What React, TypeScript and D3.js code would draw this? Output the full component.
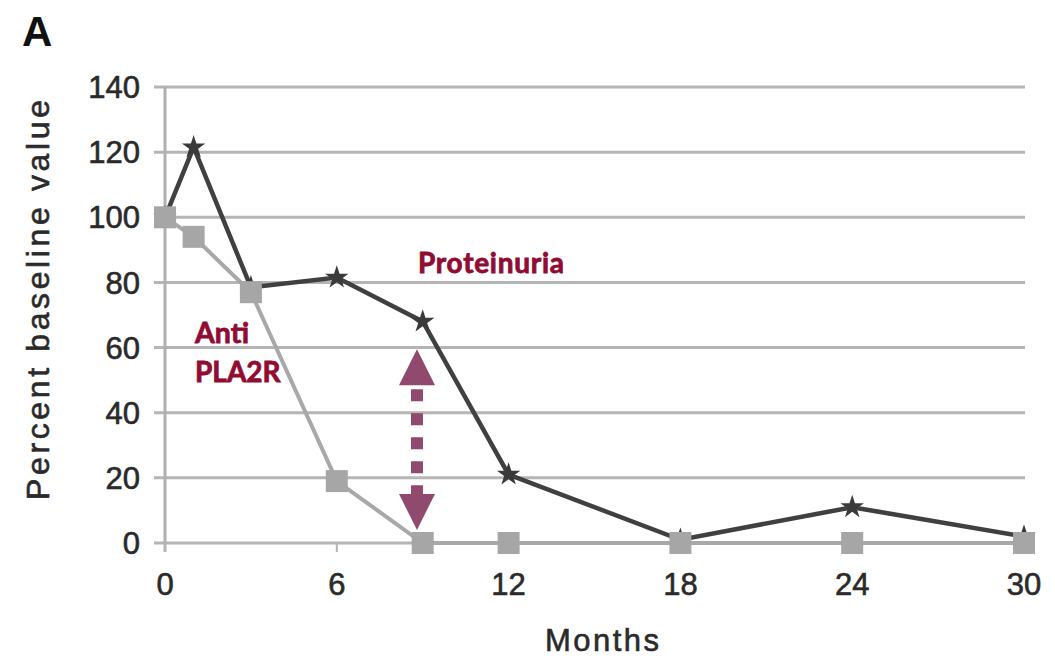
import React from "react";
import * as d3 from "d3";

const WIDTH = 1055;
const HEIGHT = 658;

// months on the x axis
const months = [0, 1, 3, 6, 9, 12, 18, 24, 30];
const proteinuria = [100, 121.5, 78.5, 81.5, 68, 21, 1, 11, 2];
const antiPla2r = [100, 94, 77, 19, 0, 0, 0, 0, 0];

const xTicks = [0, 6, 12, 18, 24, 30];
const yTicks = [0, 20, 40, 60, 80, 100, 120, 140];

// double arrow annotation (month, from value, to value)
const arrowMonth = 8.8;
const arrowRange = [4, 59.5];

const AXIS_FONT = "'Liberation Sans', Arial, sans-serif";
const LABEL_FONT = "Lato, 'Open Sans', sans-serif";
const RED = "#900c32";
const ARROW = "#8f4a6e";
const TEXT = "#2a2a2a";

export default function App() {
  const x = d3.scaleLinear().domain([0, 30]).range([165, 1024]);
  const y = d3.scaleLinear().domain([0, 140]).range([543, 87]);

  const line = d3
    .line<number>()
    .x((_, i) => x(months[i]))
    .y((d) => y(d));

  const star = d3.symbol().type(d3.symbolStar).size(170)();

  const ax = x(arrowMonth);
  const yLow = y(arrowRange[0]);
  const yHigh = y(arrowRange[1]);
  const head = 36;

  return (
    <svg
      width={WIDTH}
      height={HEIGHT}
      style={{ position: "absolute", left: 0, top: 0, background: "#fff" }}
    >
      <text x={22} y={46} fontFamily={AXIS_FONT} fontWeight="bold" fontSize={42} fill="#111">
        A
      </text>

      {/* grid */}
      {yTicks.map((t) => (
        <g key={t}>
          <line x1={154} x2={1025} y1={y(t)} y2={y(t)} stroke="#b5b5b5" strokeWidth={3} />
          <text
            x={140}
            y={y(t)}
            dy="0.36em"
            textAnchor="end"
            fontFamily={AXIS_FONT}
            fontSize={31}
            fill={TEXT}
            stroke={TEXT}
            strokeWidth={0.6}
          >
            {t}
          </text>
        </g>
      ))}
      <line x1={165} x2={165} y1={y(140)} y2={y(0) + 9} stroke="#b0b0b0" strokeWidth={3} />
      {xTicks.map((t) => (
        <g key={t}>
          <line x1={x(t)} x2={x(t)} y1={y(0)} y2={y(0) + 9} stroke="#b5b5b5" strokeWidth={2} />
          <text
            x={x(t)}
            y={595}
            textAnchor="middle"
            fontFamily={AXIS_FONT}
            fontSize={31}
            fill={TEXT}
            stroke={TEXT}
            strokeWidth={0.6}
          >
            {t}
          </text>
        </g>
      ))}

      {/* proteinuria series */}
      <path d={line(proteinuria) ?? ""} fill="none" stroke="#404040" strokeWidth={4.5} />
      {proteinuria.map((v, i) => (
        <path
          key={i}
          d={star ?? ""}
          transform={`translate(${x(months[i])},${y(v)})`}
          fill="#3a3a3a"
        />
      ))}

      {/* anti PLA2R series */}
      <path d={line(antiPla2r) ?? ""} fill="none" stroke="#a8a8a8" strokeWidth={4} />
      {antiPla2r.map((v, i) => (
        <rect
          key={i}
          x={x(months[i]) - 11}
          y={y(v) - 11}
          width={22}
          height={22}
          fill="#a6a6a6"
        />
      ))}

      {/* arrow */}
      <line
        x1={ax}
        x2={ax}
        y1={yHigh + head + 4}
        y2={yLow - head}
        stroke={ARROW}
        strokeWidth={12}
        strokeDasharray="12 12"
      />
      <path
        d={`M${ax},${yHigh} L${ax + 18},${yHigh + head} L${ax - 18},${yHigh + head} Z`}
        fill={ARROW}
      />
      <path
        d={`M${ax},${yLow} L${ax + 18},${yLow - head} L${ax - 18},${yLow - head} Z`}
        fill={ARROW}
      />

      {/* labels */}
      <text
        x={418}
        y={273}
        fontFamily={LABEL_FONT}
        fontWeight="bold"
        fontSize={28}
        fill={RED}
        stroke={RED}
        strokeWidth={0.8}
        textLength={146}
      >
        Proteinuria
      </text>
      <text
        x={195}
        y={343}
        fontFamily={LABEL_FONT}
        fontWeight="bold"
        fontSize={28.5}
        fill={RED}
        stroke={RED}
        strokeWidth={0.8}
      >
        Anti
      </text>
      <text
        x={195}
        y={382}
        fontFamily={LABEL_FONT}
        fontWeight="bold"
        fontSize={28}
        fill={RED}
        stroke={RED}
        strokeWidth={0.8}
      >
        PLA2R
      </text>

      <text
        transform="translate(49,300) rotate(-90)"
        textAnchor="middle"
        fontFamily={AXIS_FONT}
        fontSize={32}
        fill={TEXT}
        stroke={TEXT}
        strokeWidth={0.6}
        textLength={400}
        lengthAdjust="spacing"
      >
        Percent baseline value
      </text>
      <text
        x={602}
        y={651}
        textAnchor="middle"
        fontFamily={AXIS_FONT}
        fontSize={31}
        fill={TEXT}
        stroke={TEXT}
        strokeWidth={0.6}
        textLength={114}
        lengthAdjust="spacing"
      >
        Months
      </text>
    </svg>
  );
}
